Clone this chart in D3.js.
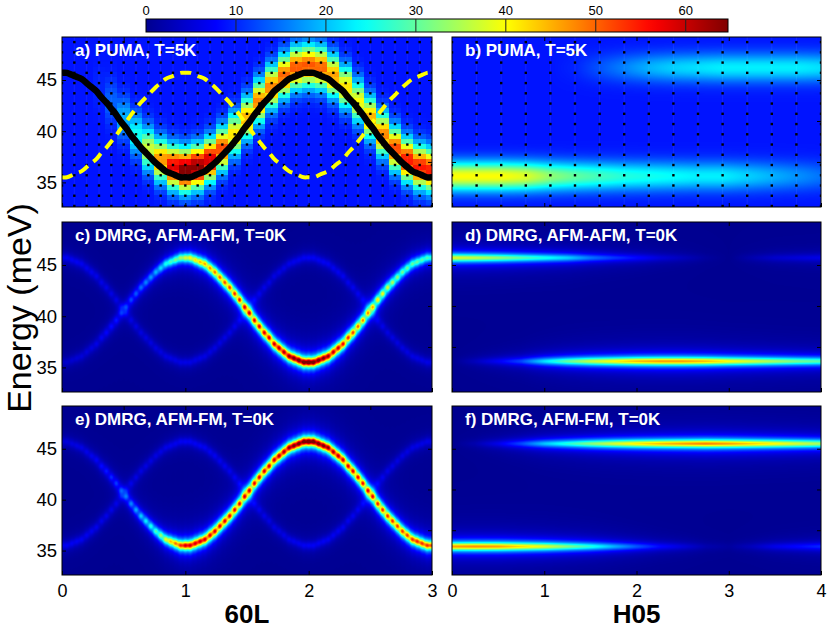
<!DOCTYPE html>
<html lang="en">
<head>
<meta charset="utf-8">
<title>Magnon spectra</title>
<style>
  body { margin: 0; background: #fff; }
  svg { display: block; font-family: "Liberation Sans", Arial, Helvetica, sans-serif; }
</style>
</head>
<body>
<script src="https://d3js.org/d3.v7.min.js"></script>
<svg id="chart"></svg>
<script>
// ---------- values ----------
var colorTicks = [0, 10, 20, 30, 40, 50, 60];
var colorMax = 64.7;

var energyTicks = [35, 40, 45];     // labelled ticks, left column
var sideTicks = [37, 41, 45];       // unlabelled ticks on the other edges
var lTicks = [0, 1, 2, 3];
var lTopTicks = [0.5, 1, 1.5, 2, 2.5];
var hTicks = [0, 1, 2, 3, 4];
var hTopTicks = [1, 2, 3];

// DMRG momentum grid along 60L (step 0.04) and the two magnon branches (meV)
var dmrgL = d3.range(76).map(function(i) { return i * 0.04; });
var branchA = [45.7, 45.7, 45.5, 45.3, 45.1, 44.7, 44.3, 43.9, 43.3, 42.8, 42.2, 41.6, 40.9, 40.3, 39.6, 39.0, 38.4, 37.9, 37.4, 36.9, 36.5, 36.1, 35.9, 35.7, 35.5, 35.5,
               35.5, 35.7, 35.9, 36.1, 36.5, 36.9, 37.4, 37.9, 38.4, 39.0, 39.6, 40.3, 40.9, 41.6, 42.2, 42.8, 43.3, 43.9, 44.3, 44.7, 45.1, 45.3, 45.5, 45.7, 45.7,
               45.7, 45.5, 45.3, 45.1, 44.7, 44.3, 43.9, 43.3, 42.8, 42.2, 41.6, 40.9, 40.3, 39.6, 39.0, 38.4, 37.9, 37.4, 36.9, 36.5, 36.1, 35.9, 35.7, 35.5, 35.5];
var branchB = [35.5, 35.5, 35.7, 35.9, 36.1, 36.5, 36.9, 37.3, 37.9, 38.4, 39.0, 39.6, 40.3, 40.9, 41.6, 42.2, 42.8, 43.3, 43.8, 44.3, 44.7, 45.1, 45.3, 45.5, 45.7, 45.7,
               45.7, 45.5, 45.3, 45.1, 44.7, 44.3, 43.8, 43.3, 42.8, 42.2, 41.6, 40.9, 40.3, 39.6, 39.0, 38.4, 37.9, 37.3, 36.9, 36.5, 36.1, 35.9, 35.7, 35.5, 35.5,
               35.5, 35.7, 35.9, 36.1, 36.5, 36.9, 37.3, 37.9, 38.4, 39.0, 39.6, 40.3, 40.9, 41.6, 42.2, 42.8, 43.3, 43.8, 44.3, 44.7, 45.1, 45.3, 45.5, 45.7, 45.7];

// intensity along the branches, read every 0.25 in 60L
var envL = [0, 0.25, 0.5, 0.75, 1, 1.25, 1.5, 1.75, 2, 2.25, 2.5, 2.75, 3];
var cBright = [4, 6, 11, 20, 38, 54, 64, 66, 72, 64, 50, 34, 28];   // c) branch B
var cFaint  = [7, 7, 6, 6, 6, 6, 6, 6, 7, 7, 6, 6, 6];             // c) branch A
var eBright = [5, 7, 14, 30, 60, 64, 64, 66, 72, 66, 62, 58, 54];   // e) branch A
var eFaint  = [7, 7, 6, 6, 7, 7, 6, 6, 7, 7, 6, 6, 6];             // e) branch B

// H05 cuts, read every 0.25 in H05
var envH = [0, 0.25, 0.5, 0.75, 1, 1.25, 1.5, 1.75, 2, 2.25, 2.5, 2.75, 3, 3.25, 3.5, 3.75, 4];
var dTop    = [38, 36, 33, 29, 25, 21, 15, 11, 8, 5, 3, 1, 0, 2, 4, 5, 6];
var dBottom = [0, 3, 7, 12, 22, 30, 36, 40, 44, 46, 46, 44, 40, 37, 34, 31, 29];
var fTop    = [0, 2, 6, 12, 20, 26, 32, 37, 41, 44, 46, 48, 46, 43, 40, 37, 34];
var fBottom = [46, 47, 46, 42, 38, 32, 26, 19, 13, 8, 5, 2, 1, 3, 6, 8, 10];
var dLevels = [45.7, 35.6];
var fLevels = [45.5, 35.4];

// PUMA data: a) columns every 0.1 in 60L, peak position and height above background
var pumaL = d3.range(31).map(function(i) { return i * 0.1; });
var pumaPeakE = [46.4, 46.2, 45.4, 44.3, 42.9, 41.3, 39.7, 38.3, 37.2, 36.5, 36.2, 36.5, 37.2, 38.3, 39.7, 41.3,
                 42.9, 44.3, 45.4, 46.2, 46.4, 46.2, 45.4, 44.3, 42.9, 41.3, 39.7, 38.3, 37.2, 36.5, 36.2];
var pumaPeak = [0, 0, 0, 1, 5, 10, 16, 28, 38, 49, 56, 55, 50, 43, 33, 36,
                39, 39, 41, 42, 42, 41, 37, 33, 31, 36, 39, 43, 46, 46, 46];
// b) columns every 4/15 in H05
var pumaH = d3.range(16).map(function(i) { return i * 4 / 15; });
var bTop    = [0, 0, 0, 0, 0, 1, 4, 7, 10, 12, 13, 14, 14, 14, 14, 13];
var bBottom = [31, 31, 31, 29, 24, 21, 19, 17, 16, 15, 14, 14, 12, 10, 8, 6];
var bLevels = [46.2, 35.6];
var pumaBackground = 9;
var pumaDotE = [32.7, 33.7, 34.7, 35.7, 36.7, 37.7, 38.7, 39.7, 40.7, 41.7, 42.7, 43.7, 44.7, 45.7, 46.7, 47.7, 48.7];

var titles = ['a) PUMA, T=5K', 'b) PUMA, T=5K',
              'c) DMRG, AFM-AFM, T=0K', 'd) DMRG, AFM-AFM, T=0K',
              'e) DMRG, AFM-FM, T=0K', 'f) DMRG, AFM-FM, T=0K'];

// ---------- layout ----------
var width = 830, height = 628;
var cols = [{x: 62, w: 370}, {x: 452, w: 369}];
var rows = [{y: 37, h: 170}, {y: 222, h: 170}, {y: 406, h: 169}];
var eDomain = [32.6, 49.2];

var svg = d3.select('#chart').attr('width', width).attr('height', height);

// MATLAB jet
var jet = d3.scaleLinear()
  .domain([0, 0.12, 0.37, 0.62, 0.87, 1].map(function(t) { return t * colorMax; }))
  .range(['#00008f', '#0000ff', '#00ffff', '#ffff00', '#ff0000', '#800000'])
  .clamp(true);
var lut = d3.range(512).map(function(i) { return d3.rgb(jet(i / 511 * colorMax)); });

function gauss(d, s) { return Math.exp(-d * d / (2 * s * s)); }
function lorentz(d, g) { return 1 / (1 + (d / g) * (d / g)); }

// ---------- intensity fields ----------
// every DMRG momentum point is a Lorentzian in energy, smeared a little in 60L
function dmrgField(bright, brightE, faint, faintE) {
  var ib = dmrgL.map(d3.scaleLinear(envL, bright));
  var iff = dmrgL.map(d3.scaleLinear(envL, faint));
  var step = 0.04, sL = 0.45 * step, gE = 0.42;
  var norm = d3.sum(dmrgL, function(q) { return gauss(q - 1.52, sL); });
  return function(L, E) {
    var v = 0;
    for (var k = 0; k < dmrgL.length; k++) {
      var dl = L - dmrgL[k];
      if (Math.abs(dl) > 3 * step) continue;
      v += gauss(dl, sL) * (ib[k] * lorentz(E - brightE[k], gE) + iff[k] * lorentz(E - faintE[k], gE));
    }
    return v / norm;
  };
}

function cutField(top, bottom, levels) {
  var t = d3.scaleLinear(envH, top), b = d3.scaleLinear(envH, bottom);
  return function(h, E) {
    return t(h) * lorentz(E - levels[0], 0.4) + b(h) * lorentz(E - levels[1], 0.4);
  };
}

var pumaColumn = d3.scaleQuantize().domain([-0.05, 3.05]).range(d3.range(pumaL.length));
function pumaLField(L, E) {
  var i = pumaColumn(L);
  var eq = Math.round(E * 2) / 2;
  return pumaBackground + pumaPeak[i] * gauss(eq - pumaPeakE[i], 1.4);
}

var bT = d3.scaleLinear(pumaH, bTop), bB = d3.scaleLinear(pumaH, bBottom);
function pumaHField(h, E) {
  return pumaBackground + bT(h) * gauss(E - bLevels[0], 1.0) + bB(h) * gauss(E - bLevels[1], 1.0);
}

var fields = [pumaLField, pumaHField,
              dmrgField(cBright, branchB, cFaint, branchA), cutField(dTop, dBottom, dLevels),
              dmrgField(eBright, branchA, eFaint, branchB), cutField(fTop, fBottom, fLevels)];

function heatmap(g, w, h, x, y, field) {
  var canvas = document.createElement('canvas');
  canvas.width = w; canvas.height = h;
  var ctx = canvas.getContext('2d');
  var img = ctx.createImageData(w, h);
  for (var px = 0; px < w; px++) {
    var xv = x.invert(px + 0.5);
    for (var py = 0; py < h; py++) {
      var v = field(xv, y.invert(py + 0.5));
      var c = lut[Math.max(0, Math.min(511, Math.round(v / colorMax * 511)))];
      var o = (py * w + px) * 4;
      img.data[o] = c.r; img.data[o + 1] = c.g; img.data[o + 2] = c.b; img.data[o + 3] = 255;
    }
  }
  ctx.putImageData(img, 0, 0);
  g.append('image').attr('width', w).attr('height', h).attr('href', canvas.toDataURL());
}

function styleAxis(sel, size) {
  sel.select('.domain').remove();
  sel.selectAll('line').attr('stroke', '#000');
  sel.selectAll('text').attr('fill', '#000').attr('font-size', size)
     .attr('font-family', '"Liberation Sans", Arial, sans-serif');
}

// ---------- panels ----------
rows.forEach(function(r, ri) {
  cols.forEach(function(c, ci) {
    var idx = ri * 2 + ci;
    var g = svg.append('g').attr('transform', 'translate(' + c.x + ',' + r.y + ')');
    var x = d3.scaleLinear().domain(ci === 0 ? [0, 3] : [0, 4]).range([0, c.w]);
    var y = d3.scaleLinear().domain(eDomain).range([r.h, 0]);

    heatmap(g, c.w, r.h, x, y, fields[idx]);

    g.append('clipPath').attr('id', 'clip' + idx)
      .append('rect').attr('width', c.w).attr('height', r.h);
    var over = g.append('g').attr('clip-path', 'url(#clip' + idx + ')');

    if (ri === 0) {
      var dotX = ci === 0 ? pumaL : pumaH;
      // faint scan grid of the measured data
      over.selectAll('line.grid').data(dotX).enter().append('line')
        .attr('class', 'grid')
        .attr('x1', function(d) { return x(d); }).attr('x2', function(d) { return x(d); })
        .attr('y1', 0).attr('y2', r.h)
        .attr('stroke', '#fff').attr('stroke-opacity', 0.07);
      var dots = [];
      dotX.forEach(function(dx) { pumaDotE.forEach(function(de) { dots.push([dx, de]); }); });
      over.selectAll('rect.dot').data(dots).enter().append('rect')
        .attr('class', 'dot')
        .attr('x', function(d) { return x(d[0]) - 1.2; })
        .attr('y', function(d) { return y(d[1]) - 1.2; })
        .attr('width', 2.4).attr('height', 2.4)
        .attr('fill', '#000');
    }
    if (idx === 0) {
      var line = d3.line()
        .x(function(d) { return x(d[0]); })
        .y(function(d) { return y(d[1]); })
        .curve(d3.curveNatural);
      over.append('path')
        .attr('d', line(d3.zip(dmrgL, branchB)))
        .attr('fill', 'none').attr('stroke', '#ffff00')
        .attr('stroke-width', 4).attr('stroke-dasharray', '11,7');
      over.append('path')
        .attr('d', line(d3.zip(dmrgL, branchA)))
        .attr('fill', 'none').attr('stroke', '#000')
        .attr('stroke-width', 6.5);
    }

    var labelled = ci === 0;
    var bottomRow = ri === 2;

    g.append('g')
      .call(d3.axisLeft(y).tickValues(labelled ? energyTicks : sideTicks)
        .tickSize(-4).tickPadding(5).tickFormat(labelled ? d3.format('d') : ''))
      .call(styleAxis, '18.5px');
    g.append('g').attr('transform', 'translate(' + c.w + ',0)')
      .call(d3.axisRight(y).tickValues(sideTicks).tickSize(-4).tickFormat(''))
      .call(styleAxis, '18.5px');
    g.append('g').attr('transform', 'translate(0,' + r.h + ')')
      .call(d3.axisBottom(x).tickValues(ci === 0 ? lTicks : hTicks)
        .tickSize(-4).tickPadding(9).tickFormat(bottomRow ? d3.format('d') : ''))
      .call(styleAxis, '18px');
    g.append('g')
      .call(d3.axisTop(x).tickValues(ci === 0 ? lTopTicks : hTopTicks).tickSize(-4).tickFormat(''))
      .call(styleAxis, '18px');

    g.append('rect').attr('width', c.w).attr('height', r.h)
      .attr('fill', 'none').attr('stroke', '#000').attr('stroke-width', 1);

    g.append('text')
      .attr('x', 13).attr('y', 19)
      .attr('fill', '#fff').attr('font-weight', 'bold').attr('font-size', '17px')
      .text(titles[idx]);
  });
});

// ---------- axis titles ----------
svg.append('text')
  .attr('transform', 'translate(31,308) rotate(-90)')
  .attr('text-anchor', 'middle').attr('font-size', '34px').attr('fill', '#000')
  .text('Energy (meV)');
svg.append('text')
  .attr('x', cols[0].x + cols[0].w / 2).attr('y', 623)
  .attr('text-anchor', 'middle').attr('font-size', '26px').attr('font-weight', 'bold')
  .text('60L');
svg.append('text')
  .attr('x', cols[1].x + cols[1].w / 2).attr('y', 623)
  .attr('text-anchor', 'middle').attr('font-size', '26px').attr('font-weight', 'bold')
  .text('H05');

// ---------- colour bar ----------
var cb = {x: 146, y: 19, w: 582, h: 13};
var cScale = d3.scaleLinear().domain([0, colorMax]).range([cb.x, cb.x + cb.w]);
var grad = svg.append('defs').append('linearGradient').attr('id', 'jetgrad');
d3.range(0, 1.0001, 0.02).forEach(function(t) {
  grad.append('stop').attr('offset', t).attr('stop-color', jet(t * colorMax));
});
svg.append('rect').attr('x', cb.x).attr('y', cb.y).attr('width', cb.w).attr('height', cb.h)
  .attr('fill', 'url(#jetgrad)').attr('stroke', '#000').attr('stroke-width', 1);
svg.append('g')
  .selectAll('line').data(colorTicks.slice(1)).enter().append('line')
  .attr('x1', cScale).attr('x2', cScale)
  .attr('y1', cb.y).attr('y2', cb.y + cb.h)
  .attr('stroke', '#222').attr('stroke-width', 1);
svg.append('g')
  .selectAll('text').data(colorTicks).enter().append('text')
  .attr('x', cScale).attr('y', 15)
  .attr('text-anchor', 'middle').attr('font-size', '13px').attr('fill', '#000')
  .text(function(d) { return d; });
</script>
</body>
</html>
